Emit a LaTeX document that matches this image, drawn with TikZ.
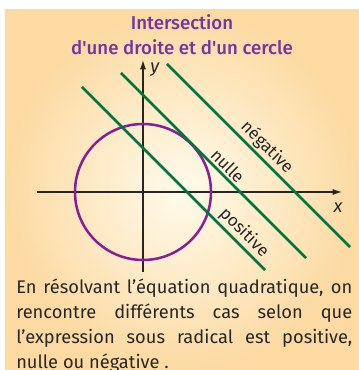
\documentclass[tikz,border=0pt]{standalone}
\usepackage{fontspec}
\setmainfont{Fira Sans}
\newfontfamily\titrefont{Fira Sans Medium}
\usetikzlibrary{arrows.meta}
\begin{document}
\begin{tikzpicture}[x=0.75pt,y=0.75pt,font=\fontsize{13.7}{18.75}\selectfont,
axe/.style={-{Latex[length=7pt,width=4.6pt]},line width=0.95pt,draw=black!85},
droite/.style={line width=1.9pt,draw=vertd},
etiq/.style={sloped,above,inner sep=1.5pt,text=black!85,font=\fontsize{12.8}{15}\selectfont},
titre/.style={anchor=base,text=violt,font=\titrefont\fontsize{14}{16}\selectfont}]
\definecolor{vertd}{RGB}{0,118,62}
\definecolor{violc}{RGB}{133,32,150}
\definecolor{violt}{RGB}{118,52,160}
\definecolor{fondin}{RGB}{255,251,236}
\definecolor{fondout}{RGB}{252,218,162}
\useasboundingbox (-143,-178) rectangle (216,192);
\fill[inner color=fondin,outer color=fondout] (-138,-178) rectangle (216,182);
% titre
\node[titre] (titre1) at (39,162) {Intersection};
\node[titre] (titre2) at (39,137) {d'une droite et d'un cercle};
% axes
\coordinate (o) at (0,0);
\coordinate (xmin) at (-106,0);
\coordinate (xmax) at (199,0);
\coordinate (ymin) at (0,-80);
\coordinate (ymax) at (0,132);
\draw[axe] (xmin) -- (xmax);
\draw[axe] (ymin) -- (ymax);
\node[text=black!85] (xlab) at (195,-16) {\textit{x}};
\node[text=black!85] (ylab) at (12,122) {\textit{y}};
% cercle
\draw[line width=1.9pt,draw=violc] (o) circle (68);
% droites
\coordinate (p1) at (-61,105);
\coordinate (p2) at (122,-78);
\coordinate (n1) at (-22,119);
\coordinate (n2) at (163,-66);
\coordinate (g1) at (24,128);
\coordinate (g2) at (207,-55);
\draw[droite] (p1) -- node[etiq,pos=0.84] (lpos) {positive} (p2);
\draw[droite] (n1) -- node[etiq,pos=0.54] (lnul) {nulle} (n2);
\draw[droite] (g1) -- node[etiq,pos=0.50] (lneg) {négative} (g2);
% texte
\node[anchor=north west,inner sep=0pt,text width=252pt,align=justify,text=black!85] (texte) at (-127,-87)
{\hyphenpenalty=10000 En résolvant l'équation quadratique, on\linebreak
rencontre différents cas selon que\linebreak
l'expression sous radical est positive,\linebreak
nulle ou négative .};
\end{tikzpicture}
\end{document}
